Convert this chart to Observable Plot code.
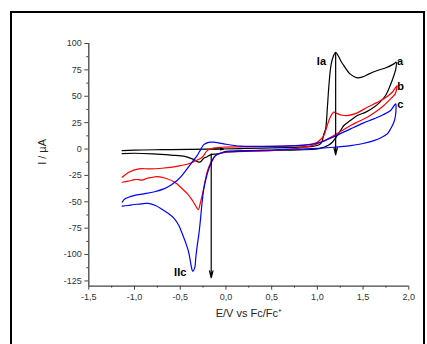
<!DOCTYPE html>
<html>
<head>
<meta charset="utf-8">
<script src="https://cdn.jsdelivr.net/npm/d3@7"></script>
<script src="https://cdn.jsdelivr.net/npm/@observablehq/plot@0.6"></script>
<style>
  html, body { margin: 0; padding: 0; background: #fff; }
  #wrap { position: relative; width: 427px; height: 344px; overflow: hidden; }
  #frame { position: absolute; left: 10px; top: 11px; width: 411px; height: 340px; border: 2.5px solid #000; }
  #chart { position: absolute; left: 0; top: 0; }
</style>
</head>
<body>
<div id="wrap"><div id="frame"></div><div id="chart"></div></div>
<script>
// Curve a (black)
const curveA_E = [-1.135,-1.0,-0.7,-0.4,-0.2,-0.05,0.2,0.5,0.8,0.95,1.02,1.05,1.07,1.09,1.11,1.126,1.15,1.175,1.2,1.23,1.26,1.29,1.36,1.436,1.5,1.56,1.655,1.75,1.837,1.862,
  1.858,1.837,1.8,1.746,1.68,1.618,1.53,1.436,1.36,1.29,1.25,1.218,1.163,1.12,1.071,1.0,0.8,0.5,0.2,0.0,-0.04,-0.1,-0.168,-0.21,-0.242,-0.27,-0.297,-0.33,-0.369,-0.45,-0.6,-0.8,-1.0,-1.135];
const curveA_I = [-1.5,-1.0,-0.6,-0.3,-0.1,0.0,0.5,1.0,1.8,2.5,4,7,14,19,40,60,80,88,91.5,88,83,79,71,67.5,68.5,71,74.4,77,80.7,82.3,
  76,69.7,61,50.7,44,39.6,35,31.7,27,22.3,17,12.8,6.4,3.5,1.7,0,-0.8,-1.2,-1.6,-2.2,-3.5,-4.6,-5.5,-7.5,-8.7,-11.5,-12.5,-11,-9.3,-7,-5.8,-4.6,-4.0,-4.4];

// Curve b (red)
const curveB_E = [-1.135,-1.062,-0.953,-0.843,-0.7,-0.588,-0.5,-0.406,-0.33,-0.259,-0.205,-0.15,-0.04,0.2,0.5,0.8,0.95,1.0,1.035,1.071,1.1,1.13,1.16,1.18,1.22,1.27,1.327,1.43,1.546,1.65,1.727,1.819,1.872,
  1.865,1.85,1.819,1.727,1.65,1.546,1.45,1.363,1.27,1.18,1.1,1.035,0.95,0.8,0.5,0.2,0.0,-0.114,-0.16,-0.2,-0.223,-0.25,-0.278,-0.303,-0.33,-0.369,-0.42,-0.478,-0.56,-0.661,-0.75,-0.82,-0.861,-0.92,-0.953,-1.0,-1.07,-1.135];
const curveB_I = [-26.7,-22,-18.8,-18.8,-18.2,-17.2,-15.8,-14,-11,-7.8,-1.5,0.7,1.7,2,2.5,3.5,5,6.5,9,12.8,20,28,33,34.9,33.5,32,31.7,34,39.6,44,47.6,53.8,60.2,
  56,52,49.1,41.2,36,30.1,26,22.3,17.5,12.8,9,6.4,3.5,0.8,-1.5,-2.3,-3,-6.2,-12,-20,-28.3,-40,-50.4,-57.4,-54,-48.5,-42.5,-37.7,-31.5,-27.7,-26.2,-27,-27.7,-29.5,-29,-29,-30.5,-31.5];

// Curve c (blue)
const curveC_E = [-1.135,-1.1,-1.0,-0.898,-0.78,-0.68,-0.6,-0.534,-0.48,-0.425,-0.37,-0.315,-0.28,-0.242,-0.19,-0.133,-0.08,-0.023,0.159,0.4,0.7,0.9,1.035,1.2,1.363,1.5,1.618,1.72,1.801,1.856,
  1.86,1.855,1.837,1.8,1.765,1.7,1.618,1.5,1.363,1.18,1.0,0.8,0.5,0.2,0.0,-0.06,-0.114,-0.15,-0.187,-0.215,-0.242,-0.26,-0.278,-0.295,-0.314,-0.33,-0.34,-0.362,-0.375,-0.387,-0.41,-0.442,-0.479,-0.515,-0.57,-0.625,-0.7,-0.77,-0.85,-0.898,-0.95,-1.008,-1.07,-1.135];
const curveC_I = [-50.4,-47,-44,-42.5,-40.5,-37.8,-34,-29.9,-25,-18.8,-12.5,-6.2,-1,4.2,6.3,6.5,5.8,4.9,2.7,2.5,3,4,6.4,12.5,19.1,24.5,28.6,32.5,36.5,42.8,
  38,32,25.4,19,14.4,11,8,5.2,3.3,1.7,0.7,0,-1,-2,-2.8,-4,-6.2,-11,-18.8,-27,-37.7,-50,-66.2,-80,-91.5,-103,-112,-116,-113,-107.3,-97,-88.4,-80,-72.5,-65.5,-61.4,-57,-53.5,-51.5,-51.7,-52.2,-52.6,-53.5,-54.2];

const seriesNames = ["a", "b", "c"];
const seriesColors = ["#000000", "#ff0000", "#0000ff"];

// Annotation arrows
const arrowE1 = [1.2, -0.161, -0.13];
const arrowI1 = [91, -4.6, 0];
const arrowE2 = [1.2, -0.161, -0.025];
const arrowI2 = [-5.5, -122, 0];

// Text labels
const labelText = ["Ia", "IIc", "a", "b", "c"];
const labelE = [1.095, -0.5, 1.87, 1.875, 1.875];
const labelI = [83, -117, 83, 59.5, 42];
const labelAnchor = ["end", "middle", "start", "start", "start"];

const xTicks = [-1.5, -1.0, -0.5, 0.0, 0.5, 1.0, 1.5, 2.0];
const xMinor = [-1.25, -0.75, -0.25, 0.25, 0.75, 1.25, 1.75];
const yTicks = [-125, -100, -75, -50, -25, 0, 25, 50, 75, 100];
const yMinor = [-112.5, -87.5, -62.5, -37.5, -12.5, 12.5, 37.5, 62.5, 87.5];

const xTitle = "E/V vs Fc/Fc\u207A";
const yTitle = "I / \u00B5A";

const curves = [
  {E: curveA_E, I: curveA_I},
  {E: curveB_E, I: curveB_I},
  {E: curveC_E, I: curveC_I}
];
const rows = [];
curves.forEach((c, k) => c.E.forEach((e, i) => rows.push({series: seriesNames[k], E: e, I: c.I[i]})));
const arrows = arrowE1.map((e, i) => ({x1: e, y1: arrowI1[i], x2: arrowE2[i], y2: arrowI2[i]}));
const labels = labelText.map((t, i) => ({t, E: labelE[i], I: labelI[i], a: labelAnchor[i]}));

const fmtX = d => d.toFixed(1).replace(".", ",");
const axisColor = "#444";

const marks = [
  Plot.ruleX([-1.5], {stroke: axisColor, strokeWidth: 1.3}),
  Plot.ruleY([-130], {stroke: axisColor, strokeWidth: 1.3}),
  Plot.axisX({ticks: xTicks, tickSize: 4, tickPadding: 3, tickFormat: fmtX, stroke: axisColor, fill: "#333", label: null}),
  Plot.axisX({ticks: xMinor, tickSize: 2, tickFormat: () => "", stroke: axisColor, label: null}),
  Plot.axisY({ticks: yTicks, tickSize: 4, tickPadding: 3, tickFormat: d => String(d), stroke: axisColor, fill: "#333", label: null}),
  Plot.axisY({ticks: yMinor, tickSize: 2, tickFormat: () => "", stroke: axisColor, label: null}),
  ...seriesNames.map((s, k) => Plot.line(rows.filter(r => r.series === s), {x: "E", y: "I", stroke: seriesColors[k], strokeWidth: 1.2, curve: "catmull-rom"})),
  Plot.arrow(arrows, {x1: "x1", y1: "y1", x2: "x2", y2: "y2", stroke: "#000", strokeWidth: 1.2, headAngle: 28, headLength: 9}),
  ...labels.map(l => Plot.text([l], {x: "E", y: "I", text: "t", textAnchor: l.a, fontSize: 11, fontWeight: "bold", fill: "#000"})),
  Plot.text([xTitle], {frameAnchor: "bottom", dy: 31, fontSize: 11, fill: "#222"}),
  Plot.text([yTitle], {frameAnchor: "left", dx: -46, rotate: -90, fontSize: 11, fill: "#222"})
];

const chart = Plot.plot({
  width: 427,
  height: 344,
  marginLeft: 88.3,
  marginRight: 18.7,
  marginTop: 43,
  marginBottom: 58.3,
  style: {fontFamily: "'Liberation Sans', Arial, sans-serif", fontSize: "9px", background: "transparent", overflow: "visible"},
  x: {domain: [-1.5, 2.0], label: null},
  y: {domain: [-130, 100], label: null},
  marks
});
document.getElementById("chart").appendChild(chart);
</script>
</body>
</html>
